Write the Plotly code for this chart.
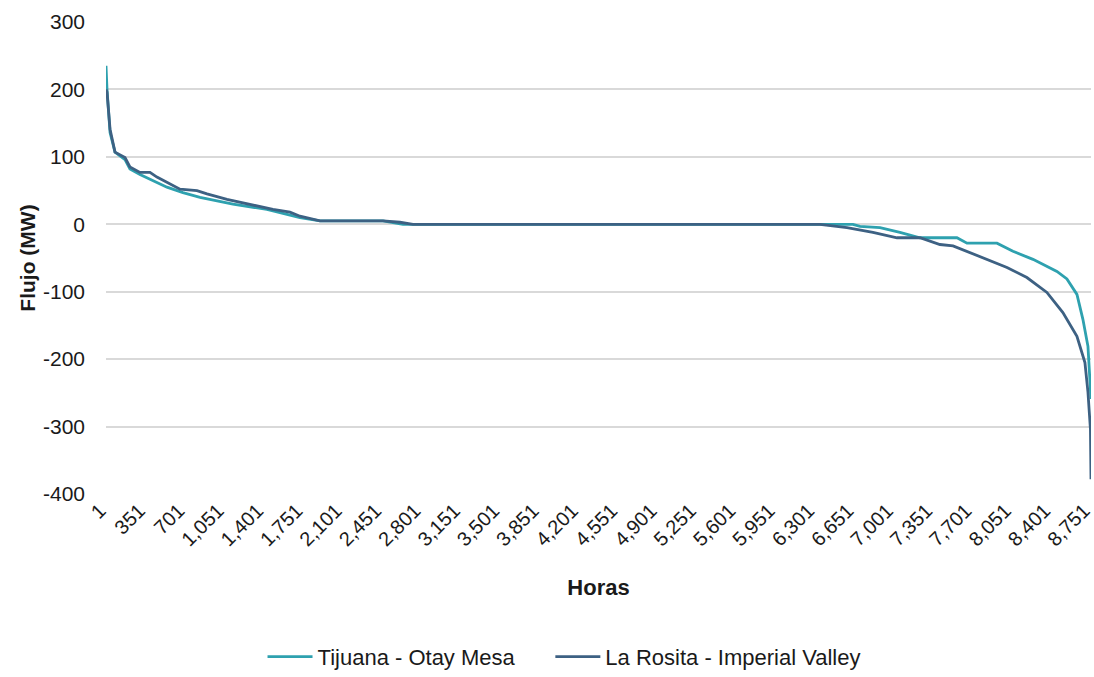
import plotly.graph_objects as go

# Duration curves (hour rank, MW)
tij_hours = [1, 10, 37, 81, 170, 214, 303, 392, 543, 685, 837, 1130, 1432, 1726, 1904, 2464, 2642,
             6350, 6643, 6706, 6884, 7061, 7177, 7239, 7568, 7657, 7924, 8066, 8244, 8457, 8546,
             8635, 8688, 8733, 8760]
tij_vals = [235, 200, 136, 107, 96, 82, 74, 67, 55, 47, 40, 30, 22, 10, 5, 5, 0,
            0, 0, -3, -5, -12, -17, -20, -20, -28, -28, -40, -52, -70, -81,
            -104, -141, -181, -259]

ros_hours = [1, 10, 37, 81, 170, 214, 303, 392, 454, 543, 659, 810, 899, 1077, 1281, 1486, 1637,
             1726, 1904, 2464, 2615, 2731,
             6350, 6590, 6821, 7035, 7239, 7417, 7533, 7657, 7835, 8013, 8190, 8368, 8510,
             8635, 8706, 8733, 8755, 8760]
ros_vals = [200, 196, 141, 107, 99, 85, 77, 77, 70, 62, 52, 50, 45, 37, 30, 22, 18,
            12, 5, 5, 3, 0,
            0, -5, -12, -20, -20, -30, -32, -40, -52, -64, -79, -101, -131,
            -166, -205, -249, -304, -378]

tick_vals = list(range(1, 8760, 350))
tick_text = [f"{v:,}" for v in tick_vals]
y_ticks = [300, 200, 100, 0, -100, -200, -300, -400]
y_text = [str(v) for v in y_ticks]

TEAL = "#2EA1AF"
DARK = "#3D6183"
FONT = "Liberation Sans, Arial, sans-serif"
PAD = "\u00a0" * 5

fig = go.Figure()
fig.add_trace(go.Scatter(x=tij_hours, y=tij_vals, mode="lines", name="Tijuana - Otay Mesa" + PAD,
                         line=dict(color=TEAL, width=2.8)))
fig.add_trace(go.Scatter(x=ros_hours, y=ros_vals, mode="lines", name="La Rosita - Imperial Valley",
                         line=dict(color=DARK, width=2.8)))

fig.update_layout(
    width=1094, height=677,
    margin=dict(l=106, r=3, t=22, b=183, autoexpand=False),
    paper_bgcolor="white", plot_bgcolor="white",
    font=dict(family=FONT, color="#1a1a1a", size=20),
    showlegend=True,
    legend=dict(orientation="h", x=0.465, xanchor="center", y=-0.345, yanchor="middle",
                font=dict(size=22), itemwidth=45),
    xaxis=dict(range=[1, 8760], tickmode="array", tickvals=tick_vals, ticktext=tick_text,
               tickangle=-45, tickfont=dict(size=20), showgrid=False, zeroline=False,
               showline=False, ticks="", automargin=False, ticklabeloverflow="allow",
               ticklabelshift=-6,
               title=dict(text="<b>Horas</b>", font=dict(size=22), standoff=30)),
    yaxis=dict(range=[-400, 300], tickmode="array", tickvals=y_ticks, ticktext=y_text,
               tickfont=dict(size=21), showgrid=True, gridcolor="#D9D9D9", gridwidth=1.8,
               zeroline=False, showline=False, ticks="", ticklabelstandoff=20, automargin=False,
               title=dict(text="<b>Flujo (MW)</b>", font=dict(size=21), standoff=1)),
)

fig.write_html("out.html", config={"displayModeBar": False},
               post_script="document.body.style.margin='0';")
